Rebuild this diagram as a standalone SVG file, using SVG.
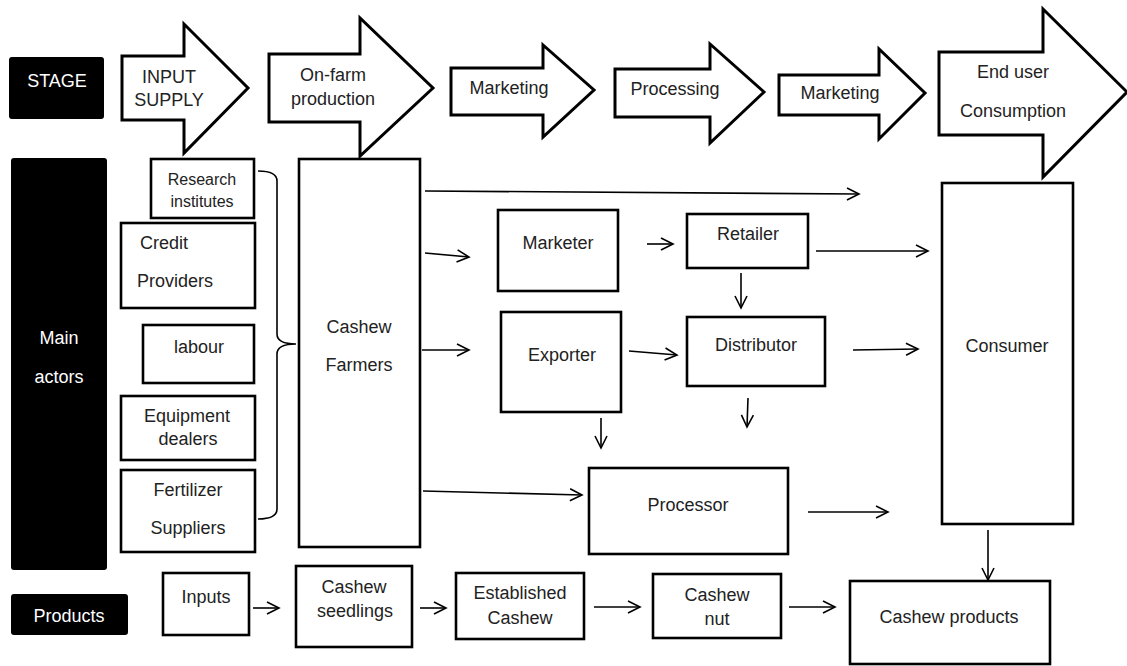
<svg xmlns="http://www.w3.org/2000/svg" width="1127" height="666" viewBox="0 0 1127 666">
<defs>
<marker id="ah" markerUnits="userSpaceOnUse" markerWidth="16" markerHeight="16" viewBox="0 0 16 16" refX="14" refY="8" orient="auto">
<path d="M2,2 L14,8 L2,14" fill="none" stroke="#000" stroke-width="1.6"/>
</marker>
<style>
text{font-family:"Liberation Sans",Arial,sans-serif;font-size:18px;fill:#222;text-anchor:middle}
.w{fill:#fff}
.s{font-size:16px}
.l{text-anchor:start}
.blk{fill:#000;stroke:none}
.box{fill:#fff;stroke:#000;stroke-width:2.6}
.stg{fill:#fff;stroke:#000;stroke-width:3;stroke-linejoin:miter}
.c line,.c path{stroke:#000;stroke-width:1.6;fill:none}
.c line{marker-end:url(#ah)}
</style>
</defs>
<rect width="1127" height="666" fill="#fff"/>

<g id="stage-label"><rect class="blk" x="9" y="57" width="95" height="62" rx="3"/><text class="w" x="57" y="87">STAGE</text></g>
<g id="actors-label"><rect class="blk" x="11" y="158" width="96" height="412" rx="3"/><text class="w" x="59" y="344">Main</text><text class="w" x="59" y="383">actors</text></g>
<g id="products-label"><rect class="blk" x="11" y="594" width="117" height="41" rx="3"/><text class="w" x="69" y="622">Products</text></g>

<g id="stage-input"><polygon class="stg" points="122,56 184,56 184,24 248,88 184,153 184,120 122,120"/><text x="169" y="83">INPUT</text><text x="169" y="106">SUPPLY</text></g>
<g id="stage-onfarm"><polygon class="stg" points="269,54 360,54 360,18 433,88 360,156 360,122 269,122"/><text x="333" y="81">On-farm</text><text x="333" y="105">production</text></g>
<g id="stage-marketing1"><polygon class="stg" points="451,68 543,68 543,45 594,90 543,137 543,115 451,115"/><text x="509" y="94">Marketing</text></g>
<g id="stage-processing"><polygon class="stg" points="615,69 710,69 710,44 764,92 710,143 710,117 615,117"/><text x="675" y="95">Processing</text></g>
<g id="stage-marketing2"><polygon class="stg" points="779,75 879,75 879,49 925,93 879,139 879,115 779,115"/><text x="840" y="99">Marketing</text></g>
<g id="stage-enduser"><polygon class="stg" points="939,52 1043,52 1043,9 1127,92 1043,177 1043,135 939,135"/><text x="1013" y="78">End user</text><text x="1013" y="117">Consumption</text></g>

<g id="research"><rect class="box" x="151" y="159" width="103" height="59"/><text class="s" x="202" y="185">Research</text><text class="s" x="202" y="207">institutes</text></g>
<g id="credit"><rect class="box" x="121" y="223" width="134" height="85"/><text class="l" x="140" y="249">Credit</text><text class="l" x="137" y="287">Providers</text></g>
<g id="labour"><rect class="box" x="143" y="325" width="111" height="58"/><text x="199" y="353">labour</text></g>
<g id="equipment"><rect class="box" x="121" y="396" width="134" height="64"/><text x="187" y="422">Equipment</text><text x="188" y="445">dealers</text></g>
<g id="fertilizer"><rect class="box" x="121" y="470" width="134" height="82"/><text x="188" y="496">Fertilizer</text><text x="188" y="534">Suppliers</text></g>
<g id="farmers"><rect class="box" x="299" y="159" width="121" height="388"/><text x="359" y="333">Cashew</text><text x="359" y="371">Farmers</text></g>
<g id="marketer"><rect class="box" x="498" y="210" width="120" height="81"/><text x="558" y="249">Marketer</text></g>
<g id="retailer"><rect class="box" x="687" y="214" width="121" height="54"/><text x="748" y="240">Retailer</text></g>
<g id="exporter"><rect class="box" x="501" y="312" width="120" height="100"/><text x="562" y="361">Exporter</text></g>
<g id="distributor"><rect class="box" x="687" y="317" width="138" height="69"/><text x="756" y="351">Distributor</text></g>
<g id="processor"><rect class="box" x="589" y="468" width="199" height="86"/><text x="688" y="511">Processor</text></g>
<g id="consumer"><rect class="box" x="942" y="183" width="131" height="341"/><text x="1007" y="352">Consumer</text></g>

<g id="inputs"><rect class="box" x="163" y="573" width="86" height="62"/><text x="206" y="603">Inputs</text></g>
<g id="seedlings"><rect class="box" x="296" y="566" width="116" height="81"/><text x="354" y="593">Cashew</text><text x="355" y="617">seedlings</text></g>
<g id="established"><rect class="box" x="456" y="573" width="128" height="66"/><text x="520" y="599">Established</text><text x="520" y="624">Cashew</text></g>
<g id="nut"><rect class="box" x="653" y="574" width="128" height="64"/><text x="717" y="601">Cashew</text><text x="717" y="625">nut</text></g>
<g id="cashew-products"><rect class="box" x="850" y="581" width="200" height="83"/><text x="949" y="623">Cashew products</text></g>

<g id="connectors" class="c">
<path d="M258,171 Q277,171 277,181 L277,334 Q277,344 296,344 Q277,344 277,354 L277,509 Q277,519 258,519"/>
<line x1="425" y1="191" x2="859" y2="194"/>
<line x1="425" y1="253" x2="469" y2="257"/>
<line x1="647" y1="244" x2="673" y2="244"/>
<line x1="816" y1="251" x2="928" y2="251"/>
<line x1="741" y1="273" x2="741" y2="308"/>
<line x1="422" y1="350" x2="469" y2="350"/>
<line x1="629" y1="351" x2="677" y2="355"/>
<line x1="853" y1="350" x2="918" y2="349"/>
<line x1="748" y1="398" x2="747" y2="427"/>
<line x1="601" y1="418" x2="601" y2="448"/>
<line x1="423" y1="491" x2="582" y2="495"/>
<line x1="808" y1="512" x2="888" y2="512"/>
<line x1="988" y1="530" x2="988" y2="580"/>
<line x1="253" y1="608" x2="279" y2="608"/>
<line x1="420" y1="608" x2="446" y2="608"/>
<line x1="594" y1="607" x2="640" y2="607"/>
<line x1="789" y1="607" x2="835" y2="607"/>
</g>
</svg>
